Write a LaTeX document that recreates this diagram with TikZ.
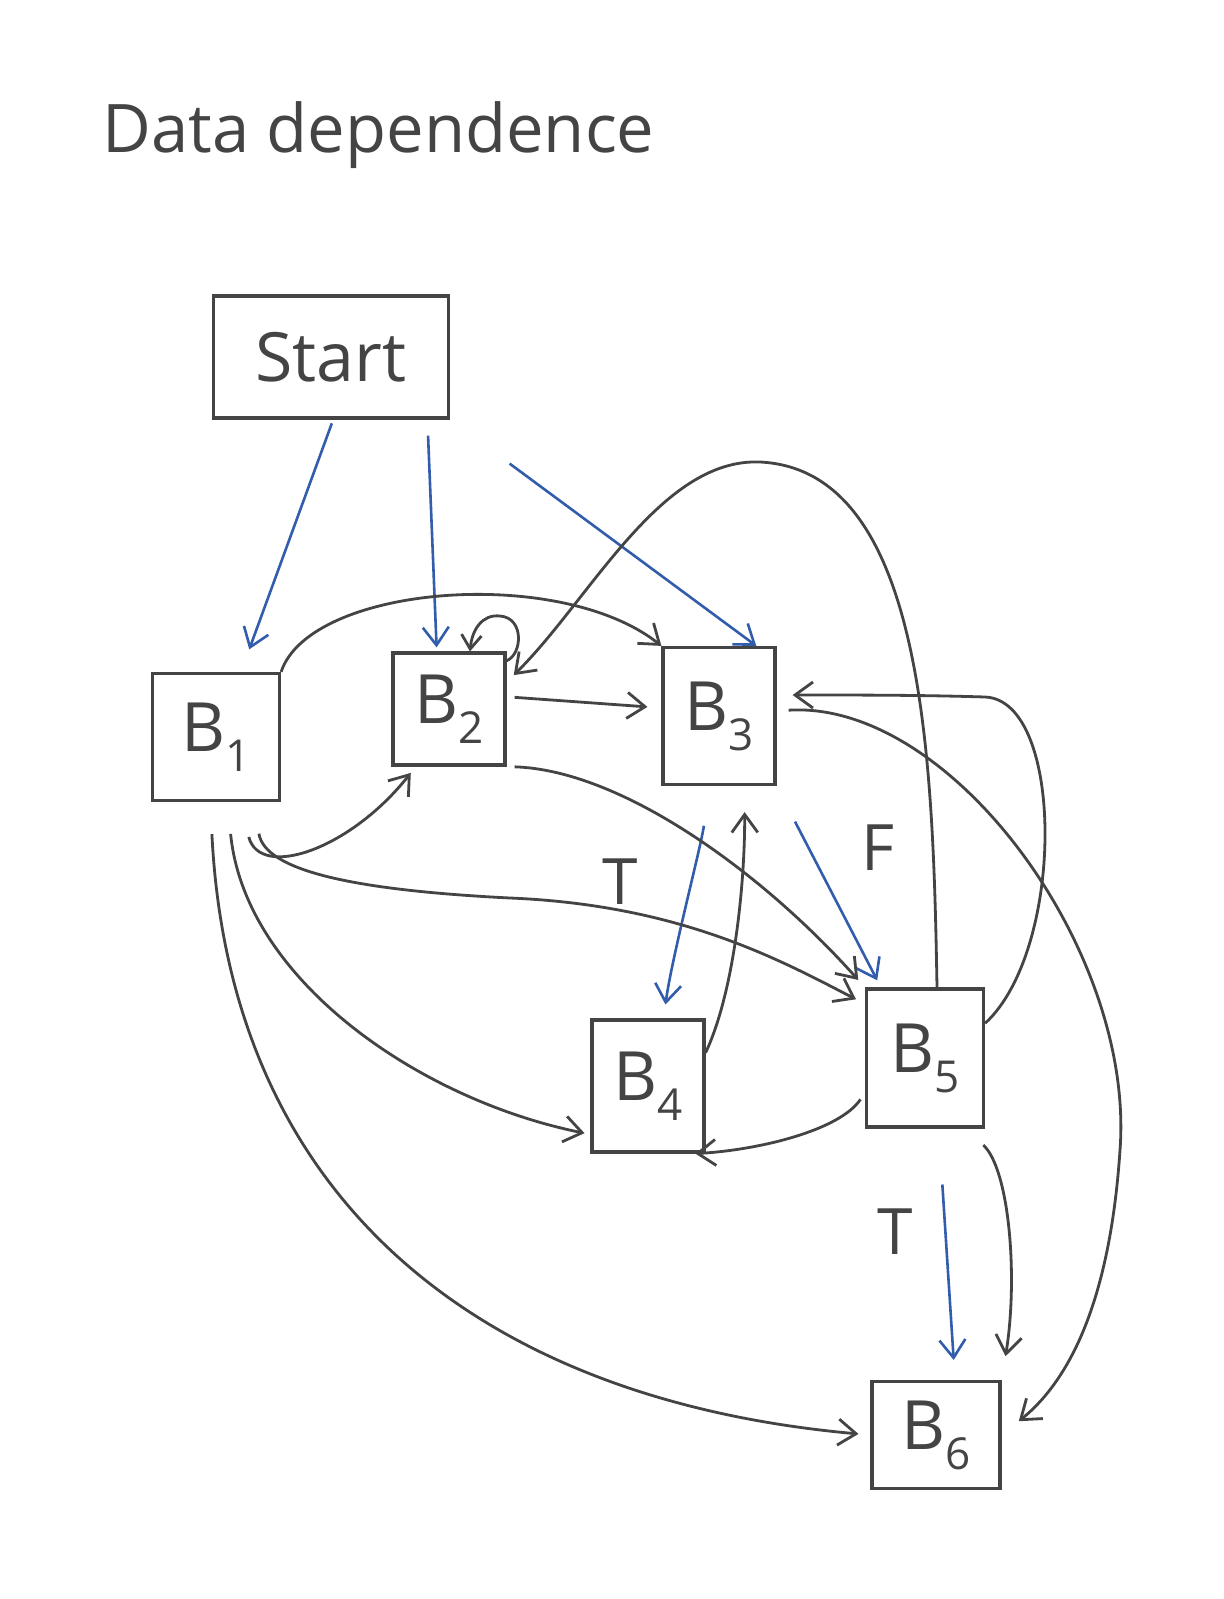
\documentclass[tikz,border=0pt]{standalone}
\usepackage{fontspec}
\setmainfont{Open Sans}
\usetikzlibrary{arrows.meta}
\definecolor{ink}{RGB}{68,68,68}
\definecolor{blu}{RGB}{50,92,172}
\newcommand\Blab[1]{B\raisebox{-10pt}{\fontsize{22}{24}\selectfont #1}}
\begin{document}
\begin{tikzpicture}[x=0.5pt,y=-0.5pt,
  box/.style={draw=ink,line width=1.6pt,inner sep=0pt,font=\fontsize{34}{40}\selectfont,text=ink},
  dep/.style={draw=ink,line width=1.4pt,-{Straight Barb[length=9pt,width=13pt]}},
  ctl/.style={draw=blu,line width=1.3pt,-{Straight Barb[length=9pt,width=13pt]}},
  lab/.style={font=\fontsize{32}{38}\selectfont,text=ink,inner sep=0pt}]
\fill[white] (0,0) rectangle (1223,1599);
\useasboundingbox (0,0) rectangle (1223,1599);
% title
\node[lab,anchor=base west,font=\fontsize{33.5}{40}\selectfont] (title) at (102,153) {Data dependence};
% nodes
\node[box,minimum width=117.5pt,minimum height=61pt] (S) at (331,357) {Start};
\node[box,minimum width=63.5pt,minimum height=63.5pt] (B1) at (216,737) {\Blab{1}};
\node[box,minimum width=56pt,minimum height=56pt] (B2) at (449,709) {\Blab{2}};
\node[box,minimum width=56pt,minimum height=68.5pt] (B3) at (719,716) {\Blab{3}};
\node[box,minimum width=56pt,minimum height=66pt] (B4) at (648,1086) {\Blab{4}};
\node[box,minimum width=58.5pt,minimum height=69pt] (B5) at (925,1058) {\Blab{5}};
\node[box,minimum width=64pt,minimum height=53.5pt] (B6) at (936,1435) {\Blab{6}};
% labels
\node[lab] (T1) at (620,882) {T};
\node[lab] (F) at (878,848) {F};
\node[lab] (T2) at (895,1232) {T};
% control dependences (blue)
\draw[ctl,shorten <=2pt,shorten >=12pt] (S.-88) -- (B1.69);
\draw[ctl,shorten <=8pt,shorten >=2pt] (S.-33.5) -- (B2.102);
\draw[ctl,shorten <=37pt] (S.south east) -- (B3.62);
\draw[ctl,shorten <=20pt,shorten >=7pt] (B3.-98) .. controls +(-8,60) and +(8,-60) .. (B4.77);
\draw[ctl,shorten <=20pt,shorten >=4pt] (B3.south east) -- (B5.122);
\draw[ctl,shorten <=28pt,shorten >=10pt] (B5.-79) -- (B6.71);
% data dependences (black)
\draw[dep] (B1.north east) .. controls (310,585) and (560,565) .. (B3.north west);
\draw[dep,-{Straight Barb[length=7pt,width=10pt]}] (B2.40) .. controls (522,655) and (525,618) .. (500,616) .. controls (482,614) and (472,630) .. (B2.70);
\draw[dep,shorten <=4pt,shorten >=7pt] (B2.12) -- (B3.172);
\draw[dep,shorten >=5pt] ([xshift=6pt]B5.north) .. controls (933,760) and (925,470) .. (760,462) .. controls (660,458) and (590,600) .. (B2.25);
\draw[dep,shorten >=8pt] (B5.30) .. controls (1065,950) and (1065,700) .. (985,697) .. controls (920,695) and (860,695) .. (B3.20);
\draw[dep,shorten <=6pt,shorten >=11pt] (B3.5) .. controls (950,700) and (1135,950) .. (1120,1150) .. controls (1110,1300) and (1070,1380) .. (B6.east);
\draw[dep,shorten >=13pt] (B4.30) .. controls (735,990) and (745,880) .. (B3.-70);
\draw[dep,shorten <=4pt] (B5.-150) .. controls (840,1130) and (760,1150) .. (B4.-55);
\draw[dep,shorten <=18pt,shorten >=4pt] (B1.-70) .. controls (260,880) and (350,850) .. (B2.-120);
\draw[dep,shorten <=16pt,shorten >=5pt] (B1.-60) .. controls (265,870) and (350,890) .. (510,898) .. controls (680,905) and (780,960) .. (B5.138);
\draw[dep,shorten <=4pt,shorten >=5pt] (B2.south east) .. controls (620,770) and (760,870) .. (B5.north west);
\draw[dep,shorten <=16pt,shorten >=3pt] (B1.-80) .. controls (245,980) and (420,1100) .. (B4.-140);
\draw[dep,shorten <=16pt,shorten >=6pt] (B1.-95) .. controls (230,1200) and (480,1400) .. (B6.west);
\draw[dep,shorten <=12pt,shorten >=12pt] (B5.-60) .. controls (1010,1170) and (1018,1280) .. (B6.north east);
\end{tikzpicture}
\end{document}
